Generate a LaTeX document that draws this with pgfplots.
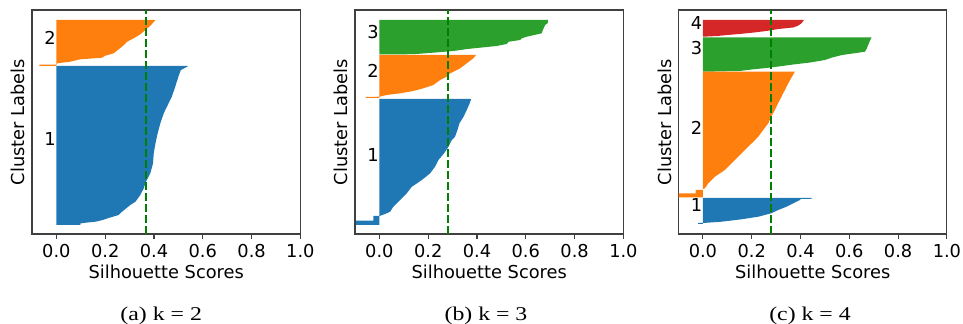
\documentclass[border=0pt]{standalone}
\usepackage{fontspec}
\setmainfont{DejaVu Sans}
\newfontfamily\capfont[FakeStretch=1.22]{Liberation Serif}
\usepackage{pgfplots}
\pgfplotsset{compat=1.18}
\definecolor{c1}{HTML}{1F77B4}
\definecolor{c2}{HTML}{FF7F0E}
\definecolor{c3}{HTML}{2CA02C}
\definecolor{c4}{HTML}{D62728}
\definecolor{mg}{HTML}{008000}
\tikzset{
  meanline/.style={mg, line width=2.1bp, dash pattern=on 7.7bp off 3.3bp},
  lab/.style={anchor=base west, inner sep=0pt},
  capnode/.style={anchor=base, font=\capfont\fontsize{19.5bp}{22bp}\selectfont},
}
\pgfplotsset{
  silstyle/.style={
    scale only axis, width=268.4bp, height=224bp,
    xmin=-0.1, xmax=1.0, ymin=0, ymax=224,
    xtick={0,0.2,0.4,0.6,0.8,1.0},
    /pgf/number format/assume math mode=true,
    xticklabel style={/pgf/number format/.cd, fixed, fixed zerofill, precision=1, /tikz/.cd, anchor=base, yshift=-18.3bp},
    ytick=\empty,
    axis line style={black!75, line width=1.1bp},
    tick align=outside, xtick pos=bottom, major tick length=5bp,
    every tick/.style={black!75, line width=1.1bp},
    xlabel={Silhouette Scores}, ylabel={Cluster Labels},
    every axis x label/.style={at={(rel axis cs:0.5,0)}, anchor=base, yshift=-44.3bp},
    every axis y label/.style={at={(rel axis cs:0,0.5)}, xshift=-14bp, rotate=90, anchor=center},
  },
}
\begin{document}
\begin{tikzpicture}[font=\fontsize{17.8bp}{21bp}\selectfont]
\useasboundingbox (0,0) rectangle (963bp,324bp);
% ---------------- (a) k = 2
\begin{axis}[silstyle, at={(32bp,90bp)}, anchor=south west]
\addplot[fill=c2, draw=none] coordinates {(0,168) (-0.07,168) (-0.07,169.3) (0,169.3) (0.003,170.7) (0.057,172.3) (0.098,174.7) (0.187,176.3) (0.2,178.3) (0.235,180.7) (0.255,184.7) (0.269,187.3) (0.29,192.3) (0.317,195.7) (0.344,199.7) (0.365,204) (0.388,209) (0.406,214) (0,214)};
\addplot[fill=c1, draw=none] coordinates {(0,168) (0.54,168) (0.53,166.5) (0.51,164) (0.50,157.3) (0.487,147.3) (0.473,137.3) (0.453,127.3) (0.44,120.7) (0.426,110.7) (0.415,100.7) (0.406,90.7) (0.399,80.7) (0.396,70.7) (0.385,60.7) (0.367,52.3) (0.358,45.7) (0.344,39) (0.324,32.3) (0.303,29) (0.269,22.3) (0.255,19) (0.21,15.7) (0.19,14) (0.16,12.3) (0.12,11.3) (0.098,10.5) (0.098,9) (0,9)};
\addplot[meanline] coordinates {(0.368,0) (0.368,224)};
\node[lab] at (axis cs:-0.05,189.7) {2};
\node[lab] at (axis cs:-0.05,88.3) {1};
\end{axis}
% ---------------- (b) k = 3
\begin{axis}[silstyle, at={(355bp,90bp)}, anchor=south west]
\addplot[fill=c3, draw=none] coordinates {(0,214) (0.69,214) (0.69,211) (0.679,209) (0.67,204) (0.665,200.7) (0.604,197.3) (0.584,195.7) (0.577,194) (0.53,192.3) (0.522,190) (0.48,188) (0.42,186.5) (0.36,185) (0.303,183) (0.22,181.3) (0.15,180) (0.08,179.5) (0,179.5)};
\addplot[fill=c2, draw=none] coordinates {(0,179) (0.396,179) (0.385,175.7) (0.358,170.7) (0.331,165.7) (0.29,160.7) (0.276,157.3) (0.249,154) (0.221,149) (0.18,145.7) (0.139,143) (0.085,140.7) (0.03,139) (0,137.3) (-0.055,137) (-0.055,136) (0,136)};
\addplot[fill=c1, draw=none] coordinates {(0,135) (0.376,135) (0.37,130.7) (0.358,124) (0.345,117.3) (0.328,110.7) (0.32,104) (0.31,97.3) (0.297,94) (0.283,87.3) (0.265,80.7) (0.242,74) (0.228,67.3) (0.208,60.7) (0.174,54) (0.133,47.3) (0.112,40.7) (0.085,34) (0.057,27.3) (0.044,22.3) (0.02,19.7) (0,18) (-0.025,18) (-0.025,13.3) (-0.095,13.3) (-0.095,9) (0,9)};
\addplot[meanline] coordinates {(0.28,0) (0.28,224)};
\node[lab] at (axis cs:-0.05,195.7) {3};
\node[lab] at (axis cs:-0.05,156.7) {2};
\node[lab] at (axis cs:-0.05,72.3) {1};
\end{axis}
% ---------------- (c) k = 4
\begin{axis}[silstyle, at={(678.5bp,90bp)}, anchor=south west]
\addplot[fill=c4, draw=none] coordinates {(0,214) (0.414,214) (0.404,210.7) (0.39,208.3) (0.37,206.5) (0.31,205) (0.26,203) (0.21,201.5) (0.15,200) (0.1,199) (0.06,198) (0,197.3)};
\addplot[fill=c3, draw=none] coordinates {(0,196.7) (0.691,196.7) (0.68,190.7) (0.672,185.7) (0.664,182.3) (0.62,180.7) (0.57,179) (0.53,176.5) (0.5,174) (0.44,171.5) (0.37,169.5) (0.31,167.5) (0.26,166) (0.2,164.5) (0.15,163) (0.05,162.5) (0,162.3)};
\addplot[fill=c2, draw=none] coordinates {(0,162.3) (0.377,162.3) (0.365,157.3) (0.35,150.7) (0.336,144) (0.322,137.3) (0.308,130.7) (0.295,124) (0.28,117.3) (0.268,110.7) (0.247,104) (0.227,97.3) (0.2,90.7) (0.172,84) (0.145,77.3) (0.118,70.7) (0.09,64) (0.049,57.3) (0.022,50.7) (0.008,45.7) (0,45) (0,44) (-0.03,44) (-0.03,40.7) (-0.1,40.7) (-0.1,36.7) (0,36.7)};
\addplot[fill=c1, draw=none] coordinates {(0,36) (0.448,36) (0.448,35.3) (0.4,35) (0.398,34) (0.37,30.7) (0.343,27.3) (0.309,24) (0.28,20.7) (0.227,17.3) (0.158,14.7) (0.077,12.3) (0,11) (-0.02,11) (-0.02,10) (0,10)};
\addplot[meanline] coordinates {(0.279,0) (0.279,224)};
\node[lab] at (axis cs:-0.05,204) {4};
\node[lab] at (axis cs:-0.05,179.7) {3};
\node[lab] at (axis cs:-0.05,99) {2};
\node[lab] at (axis cs:-0.05,22.3) {1};
\end{axis}
% captions
\node[capnode] at (161.2bp,3.5bp) {(a) k = 2};
\node[capnode] at (486bp,3.5bp) {(b) k = 3};
\node[capnode] at (810bp,3.5bp) {(c) k = 4};
\end{tikzpicture}
\end{document}
